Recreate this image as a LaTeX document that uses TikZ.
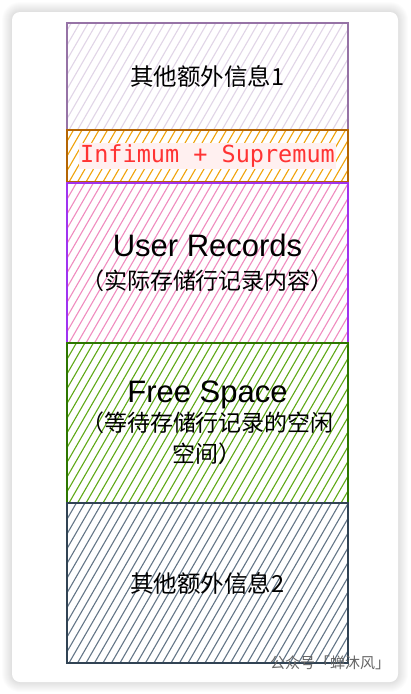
\documentclass[tikz,border=0pt]{standalone}
\usepackage{fontspec}
\setmainfont{Liberation Sans}
\setmonofont{DejaVu Sans Mono}
\newfontfamily\cjk{Noto Sans CJK SC}
\usetikzlibrary{positioning}

\definecolor{infoline}{HTML}{9673A6}
\definecolor{infohatch}{HTML}{E1D5E7}
\definecolor{supline}{HTML}{B46504}
\definecolor{suphatch}{HTML}{F0A30A}
\definecolor{recline}{HTML}{A033F0}
\definecolor{rechatch}{HTML}{F08CBF}
\definecolor{freeline}{HTML}{2D7600}
\definecolor{freehatch}{HTML}{60A917}
\definecolor{restline}{HTML}{314354}
\definecolor{resthatch}{HTML}{647687}
\definecolor{codered}{HTML}{FF3333}
\definecolor{codebg}{HTML}{FFF0F0}

\tikzset{
  layer/.style={draw=#1, line width=1.3pt, minimum width=281pt, inner sep=0pt,
    outer sep=0pt, align=center},
  hatch/.style={path picture={
    \foreach \k in {0,...,45}
      \draw[#1, line width=1.1pt]
        ([xshift=\k*8.5pt-100pt]path picture bounding box.south west) -- ++(60:400pt);
  }},
  zh/.style={font=\cjk\fontsize{23.5}{30}\selectfont}
}
\newcommand\bigline[1]{{\rmfamily\fontsize{31}{34}\selectfont #1}}

\begin{document}
\begin{tikzpicture}[x=1pt, y=-1pt]
\useasboundingbox (0,0) rectangle (410,694);

%the card
\foreach \s in {1,...,10}
  \fill[black, opacity=0.012, rounded corners=8+\s] (12-\s,12-\s) rectangle (398+\s,682+\s);
\fill[white, rounded corners=8] (12,12) rectangle (398,682);

%the page layers
\node[layer=infoline, hatch=infohatch, minimum height=107pt, zh] (info1) at (207.5,76.5)
  {其他额外信息1};
\node[layer=supline, hatch=suphatch, minimum height=52pt, below=0pt of info1,
  font=\ttfamily\fontsize{23.5}{26}\selectfont, text=codered] (infsup)
  {\fboxsep=1.5pt\colorbox{codebg}{Infimum + Supremum}};
\node[layer=recline, hatch=rechatch, minimum height=160pt, below=1pt of infsup,
  font=\cjk\fontsize{23}{33}\selectfont] (records)
  {\bigline{User Records}\\ （实际存储行记录内容）};
\node[layer=freeline, hatch=freehatch, minimum height=160pt, below=0pt of records,
  font=\cjk\fontsize{23}{31}\selectfont] (free)
  {\bigline{Free Space}\\[-2pt] （等待存储行记录的空闲\\ 空间）};
\node[layer=restline, hatch=resthatch, minimum height=160pt, below=0pt of free, zh] (info2)
  {其他额外信息2};

%the watermark
\node[font=\cjk\fontsize{15}{15}\selectfont, text=black!60] (mark) at (330,663)
  {公众号「蝉沐风」};
\end{tikzpicture}
\end{document}
